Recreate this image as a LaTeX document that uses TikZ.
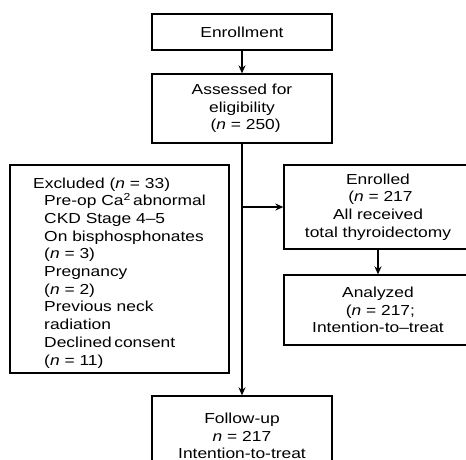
\documentclass[tikz,border=0pt]{standalone}
\usepackage{fontspec}
\setmainfont{Liberation Sans}[FakeStretch=1.2]
\usetikzlibrary{arrows.meta, positioning}

\newcommand{\ind}{\hspace*{11pt}}

\begin{document}
\begin{tikzpicture}[
        x=1pt, y=-1pt,
        every node/.style={font=\fontsize{14.5}{17.7}\selectfont},
        box/.style={rectangle, draw, line width=1.3pt, inner sep=0pt,
            align=center, text centered},
        arr/.style={line width=1.3pt, -{Stealth[length=8pt, width=7pt]}}
    ]
    \useasboundingbox (0,0) rectangle (466,459);
    \clip (0,0) rectangle (466,459);
    \node (enrol0) [box, minimum width=180pt, minimum height=36pt]
        at (242,32) {Enrollment};
    \node (assess) [box, minimum width=180pt, minimum height=69pt]
        at (242,108.5) {Assessed for\\eligibility\\\ \,(\textit{n} = 250)};
    \node (excl)   [box, minimum width=219pt, minimum height=208pt,
        align=left]
        at (119.5,269) {\rule{0pt}{18pt}Excluded (\textit{n} = 33)\\
            \ind Pre-op Ca\textsuperscript{2}\,abnormal\\
            \ind CKD Stage 4--5\\
            \ind On bisphosphonates\\
            \ind (\textit{n} = 3)\\
            \ind Pregnancy\\
            \ind (\textit{n} = 2)\\
            \ind Previous neck\\
            \ind radiation\\
            \ind Declined\,consent\\
            \ind (\textit{n} = 11)};
    \node (enrol)  [box, minimum width=188pt, minimum height=84pt]
        at (378,207) {Enrolled\\\ (\textit{n} = 217\\All received\\total thyroidectomy};
    \node (anal)   [box, minimum width=188pt, minimum height=70pt]
        at (378,310) {Analyzed\\\ (\textit{n} = 217;\\Intention-to--treat};
    \node (follow) [box, minimum width=180pt, minimum height=80pt]
        at (242,436) {Follow-up\\\textit{n} = 217\\Intention-to-treat};
    \coordinate (split) at (assess.south |- enrol.west);
    \draw [arr] (enrol0) -- (assess);
    \draw [arr] (assess) -- (follow);
    \draw [arr] (split)  -- (enrol.west);
    \draw [arr] (enrol.south -| anal.north) -- (anal.north);
\end{tikzpicture}
\end{document}
